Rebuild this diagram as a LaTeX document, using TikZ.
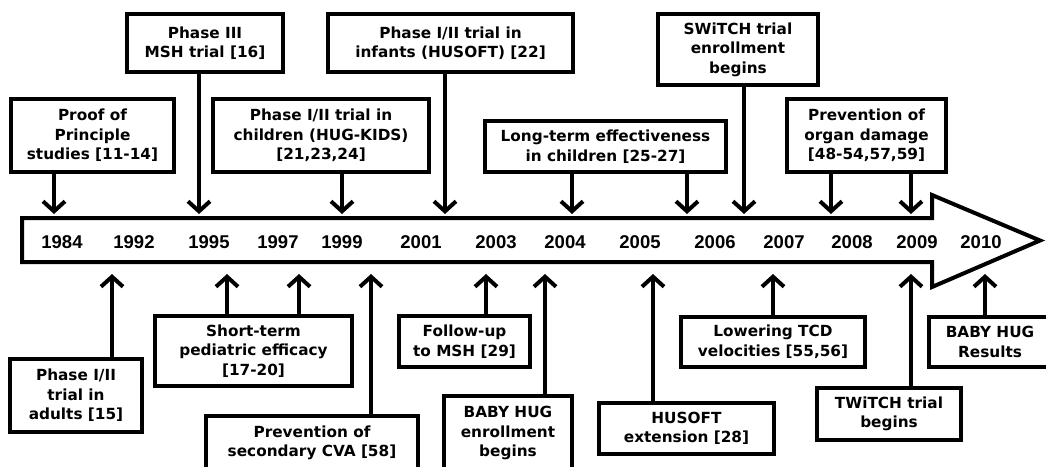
\documentclass[tikz,border=0pt]{standalone}
\usepackage{fontspec}
\setmainfont{DejaVu Sans}
\newfontfamily\yearfont{Liberation Sans}
\usetikzlibrary{arrows.meta}
\tikzset{
  box/.style={draw, line width=4pt, rectangle, inner sep=0pt, align=center,
    font=\bfseries\fontsize{15.3}{19.5}\selectfont},
  arr/.style={line width=4pt, -{Straight Barb[length=10pt,width=22pt,line width=4pt]}},
  yr/.style={font=\yearfont\bfseries\fontsize{18.5}{20}\selectfont, inner sep=0pt},
  tl/.style={draw, line width=4pt, line join=miter, fill=white}
}
\begin{document}
\begin{tikzpicture}[x=1pt,y=-1pt]
\useasboundingbox (0,0) rectangle (1046,466);
% timeline arrow
\draw[tl] (22,218) -- (932,218) -- (932,195) -- (1040,240.5) -- (932,287) -- (932,262) -- (22,262) -- cycle;
% years
\foreach \x/\y in {62/1984,134/1992,209/1995,278/1997,342/1999,421/2001,496/2003,565/2004,640/2005,715/2006,784/2007,852/2008,917/2009,981/2010}
  \node[yr] (y\y) at (\x,242) {\y};
% top boxes
\node[box, minimum width=163pt, minimum height=73pt] (proof) at (92.5,135.5) {Proof of\\Principle\\studies [11-14]};
\node[box, minimum width=156pt, minimum height=58pt] (msh) at (205,43) {Phase III\\MSH trial [16]};
\node[box, minimum width=216pt, minimum height=73pt] (kids) at (321,135.5) {Phase I/II trial in\\children (HUG-KIDS)\\{}[21,23,24]};
\node[box, minimum width=245pt, minimum height=58pt] (husoft) at (450.5,43) {Phase I/II trial in\\infants (HUSOFT) [22]};
\node[box, minimum width=241pt, minimum height=51pt] (long) at (605.5,146.5) {Long-term effectiveness\\in children [25-27]};
\node[box, minimum width=160pt, minimum height=71pt] (switch) at (738,49.5) {SWiTCH trial\\enrollment\\begins};
\node[box, minimum width=159pt, minimum height=73pt] (organ) at (866.5,135.5) {Prevention of\\organ damage\\{}[48-54,57,59]};
% bottom boxes
\node[box, minimum width=132pt, minimum height=73pt] (adults) at (76,395.5) {Phase I/II\\trial in\\adults [15]};
\node[box, minimum width=197pt, minimum height=70pt] (short) at (253.5,351) {Short-term\\pediatric efficacy\\{}[17-20]};
\node[box, minimum width=212pt, minimum height=55pt] (cva) at (312,443) {Prevention of\\secondary CVA [58]};
\node[box, minimum width=131pt, minimum height=51pt] (follow) at (464.5,341.5) {Follow-up\\to MSH [29]};
\node[box, minimum width=128pt, minimum height=75pt] (babyenr) at (508,433) {BABY HUG\\enrollment\\begins};
\node[box, minimum width=175pt, minimum height=51pt] (husext) at (686.5,428.5) {HUSOFT\\extension [28]};
\node[box, minimum width=184pt, minimum height=50pt] (lower) at (773,342) {Lowering TCD\\velocities [55,56]};
\node[box, minimum width=144pt, minimum height=52pt] (twitch) at (889,414) {TWiTCH trial\\begins};
\node[box, minimum width=122pt, minimum height=50pt] (results) at (990,342) {BABY HUG\\Results};
% arrow end points
\foreach \n/\x in {t1/54,t2/199,t3/342,t4/445,t5/572,t6/687,t7/744,t8/831,t9/911}
  \coordinate (\n) at (\x,214);
\foreach \n/\x in {b1/112,b2/227,b3/299,b4/371,b5/486,b6/545,b7/653,b8/773,b9/911,b10/985}
  \coordinate (\n) at (\x,274);
% top arrows
\draw[arr] (proof.south -| t1) -- (t1);
\draw[arr] (msh.south -| t2) -- (t2);
\draw[arr] (kids.south -| t3) -- (t3);
\draw[arr] (husoft.south -| t4) -- (t4);
\draw[arr] (long.south -| t5) -- (t5);
\draw[arr] (long.south -| t6) -- (t6);
\draw[arr] (switch.south -| t7) -- (t7);
\draw[arr] (organ.south -| t8) -- (t8);
\draw[arr] (organ.south -| t9) -- (t9);
% bottom arrows
\draw[arr] (adults.north -| b1) -- (b1);
\draw[arr] (short.north -| b2) -- (b2);
\draw[arr] (short.north -| b3) -- (b3);
\draw[arr] (cva.north -| b4) -- (b4);
\draw[arr] (follow.north -| b5) -- (b5);
\draw[arr] (babyenr.north -| b6) -- (b6);
\draw[arr] (husext.north -| b7) -- (b7);
\draw[arr] (lower.north -| b8) -- (b8);
\draw[arr] (twitch.north -| b9) -- (b9);
\draw[arr] (results.north -| b10) -- (b10);
\end{tikzpicture}
\end{document}
